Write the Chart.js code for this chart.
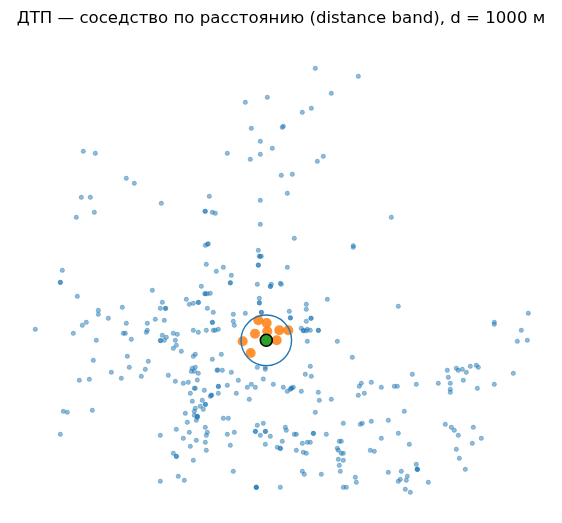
<!DOCTYPE html>
<html>
<head>
<meta charset="utf-8">
<script src="https://cdn.jsdelivr.net/npm/chart.js@4"></script>
<style>
  body { margin: 0; background: #fff; }
  canvas { display: block; }
</style>
</head>
<body>
<canvas id="myChart" width="562" height="523"></canvas>
<script>
    const chartTitle = 'ДТП — соседство по расстоянию (distance band), d = 1000 м';

    // All accidents (map units, y grows downward)
    const accidentX = [
        267.3, 245.3, 251.3, 260.3, 272.3, 260.3, 227.3, 250.3, 83.3, 95.3,
        126.3, 134.3, 81.3, 90.3, 161.3, 209.3, 260.3, 94.3, 76.3, 205,
        205.4, 212.3, 215.3, 260.3, 208.3, 207.5, 205.3, 258.3, 259.3, 260,
        261.3, 258.3, 258.4, 206.3, 223.3, 216.3, 231.3, 62.3, 315.3, 358.3,
        331.3, 311.3, 302.3, 283.3, 282.3, 323.3, 317.3, 292.3, 281.3, 287.3,
        391.3, 294.3, 353.3, 353.3, 287.3, 60.3, 60.4, 77.3, 98.3, 98.3,
        122.3, 108.3, 86.3, 82.3, 73.3, 35.3, 126.3, 147.3, 147.3, 146.3,
        123.3, 125.3, 131.3, 96.3, 127.3, 93.3, 148.3, 129.3, 145.3, 111.3,
        141.3, 121.3, 89.3, 79.3, 92.3, 63.3, 67.3, 60.3, 201.3, 230.3,
        230.4, 152.3, 205.3, 204.8, 207.3, 210.3, 186.3, 162.3, 189.3, 193.3,
        198.3, 198.5, 160.3, 165.7, 165.4, 207.3, 213.3, 155.3, 164.3, 233.3,
        233.3, 234.3, 212.3, 212.5, 193.3, 198.3, 206.3, 213.3, 215.3, 218.3,
        173.3, 177.3, 162.3, 166.3, 164.3, 160.7, 160.3, 175.3, 176.3, 173.3,
        181.3, 195.3, 193.3, 221.3, 212.3, 168.3, 195.3, 192.3, 191.3, 194.3,
        198.3, 217.7, 217, 222.3, 231.3, 197.3, 175.3, 183.3, 188.3, 238.3,
        218.3, 218.5, 227.3, 194.3, 195.3, 204.3, 190.3, 218.3, 236.3, 211.3,
        211.6, 210.3, 192.3, 202.3, 205.3, 205.5, 200.3, 195.3, 203.3, 194.3,
        185.3, 194.3, 197.3, 197.5, 197.3, 196.3, 187.3, 223.3, 228.3, 205.3,
        176.3, 189.3, 207.3, 206.3, 227.3, 234.3, 160.3, 183.3, 196.3, 205.3,
        190.3, 230.3, 206.3, 173.3, 176.3, 176.5, 193.3, 233.3, 178.3, 184.3,
        160.3, 259.3, 259.5, 306.3, 306.3, 327.3, 245.3, 261.3, 261.5, 289.3,
        290.3, 290.5, 306.3, 310.8, 311.2, 301.3, 303.3, 303.6, 306.3, 307.3,
        310.3, 318.3, 318.5, 307.3, 257.3, 265.3, 265.3, 263.3, 310.3, 305.3,
        311.3, 251.3, 247.3, 255.3, 273.3, 283.3, 293.3, 291.3, 291.6, 290.3,
        287.3, 301.3, 318.3, 319.3, 331.3, 249.3, 315.3, 343.3, 263.3, 257.3,
        285.3, 286.3, 255.3, 255.5, 265.3, 265.5, 260.3, 270.3, 294.3, 296.3,
        313.3, 313.5, 326.3, 282.3, 302.3, 307.3, 310.3, 339.3, 341.3, 265.3,
        277.3, 280.3, 280.5, 337.3, 338.3, 296.3, 303.3, 306.3, 341.3, 343.3,
        338.3, 343.3, 339.3, 340.3, 302.3, 304.3, 321.3, 256.3, 256.4, 256.2,
        280.3, 343.3, 346.3, 398.3, 528.3, 494.3, 494.3, 521.3, 517.3, 527.3,
        337.3, 352.3, 412.3, 447.3, 456.3, 458.3, 462.3, 466.3, 470.3, 476.3,
        478.3, 448.3, 463.3, 513.3, 361.3, 359.3, 371.3, 381.3, 394.3, 397.3,
        416.3, 438.3, 450.3, 450.3, 450.3, 477.3, 494.3, 364.3, 358.3, 404.3,
        360.3, 362.3, 371.3, 388.3, 445.3, 451.3, 454.3, 473.3, 458.3, 398.3,
        381.3, 481.3, 472.3, 409.3, 456.3, 370.3, 374.3, 459.3, 416.3, 417.3,
        417.5, 417.1, 465.3, 388.3, 401.3, 407.3, 355.3, 400.3, 406.3, 398.3,
        356.3, 428.3, 405.3, 410.3, 257.3, 271.3, 270.3, 270.5, 280.3, 281.3,
        259.3
    ];
    const accidentY = [
        97.3, 102.3, 128.3, 141.3, 148.3, 154.3, 153.3, 159.3, 151.3, 153.3,
        178.3, 183.3, 197.3, 197.3, 203.3, 196.3, 200.3, 212.3, 217.3, 211.3,
        211.3, 212.3, 213.3, 224.3, 243.7, 244.3, 245.3, 250.3, 256.3, 256.3,
        256.3, 265, 265.2, 264.3, 267.3, 271.3, 275.3, 270.3, 68.3, 76.3,
        93.3, 108.3, 112.3, 126.3, 127.3, 156.3, 161.3, 174.3, 175.3, 193.3,
        217.3, 238.3, 245.7, 247.3, 267.3, 282.3, 282.5, 296.3, 310.3, 314.3,
        307.3, 318.3, 322.3, 325.3, 333.3, 329.3, 323.3, 323.3, 330.3, 332.3,
        333.3, 333.3, 339.3, 340.3, 356.3, 360.3, 361.3, 367.3, 369.3, 372.3,
        376.3, 378.3, 379.3, 380.3, 410.3, 411.3, 412.3, 434.3, 286.3, 282.7,
        282.9, 290.3, 293.7, 293.7, 293.7, 293.3, 299.3, 302.3, 304.3, 303.3,
        302.3, 302.5, 308.3, 308.3, 308.5, 308.3, 312.3, 319.3, 320.3, 314.3,
        321.3, 325.3, 322.3, 322.5, 330.3, 332.3, 330.3, 330.3, 330.3, 329.3,
        333.3, 334.3, 335.3, 337.3, 340.3, 340.7, 340.5, 340.3, 345.3, 348.3,
        351.3, 354.3, 356.3, 354.3, 359.3, 375.3, 367.3, 368.3, 371.3, 371.3,
        373.3, 370, 370.2, 370.3, 372.3, 380, 381.3, 383.3, 382.3, 380.3,
        386.3, 386.5, 385.3, 388.3, 388.3, 390.3, 393.3, 393.3, 393.3, 395.3,
        395.1, 396.3, 401.3, 400.3, 404.3, 404.5, 406.3, 408.3, 409.3, 411.3,
        413.3, 415.3, 416.3, 416.5, 417.3, 420.3, 422.3, 418.3, 418.3, 427.3,
        429.3, 432.3, 432.3, 435.3, 434.3, 432.3, 435.3, 438.3, 440.3, 442.3,
        446.3, 445.3, 450.3, 453.3, 456.3, 456.5, 460.3, 471.3, 476.3, 480.3,
        481.3, 302.7, 303, 304.3, 309.3, 299.3, 313.3, 312.3, 312.5, 311.3,
        317.7, 318, 321.3, 318.3, 318.3, 328.3, 330.7, 330.5, 330.7, 329.3,
        330.3, 330.3, 330.5, 341.3, 367.3, 367.3, 369.3, 379, 366.3, 374.3,
        376.3, 384.3, 387.3, 387.3, 384.3, 387.3, 387.3, 388.3, 388.1, 389.3,
        391.3, 391.3, 392.3, 400.3, 399.3, 399.3, 412.3, 423.3, 423.3, 425.3,
        427.3, 430.3, 431.3, 431.5, 431.3, 431.5, 435.3, 436.3, 434.3, 434.3,
        433.3, 433.5, 434.3, 441.3, 443.3, 442.3, 442.3, 441.3, 441.3, 444.3,
        447.3, 448.3, 448.5, 448.3, 450.3, 450.3, 452.3, 453.3, 453.3, 453.3,
        459.3, 460.3, 465.3, 471.3, 471.3, 474.3, 474.3, 487.3, 487.4, 487.2,
        487.3, 487.3, 487.3, 306.3, 313.3, 322.3, 324.3, 330.3, 341.3, 340.3,
        341.3, 357.3, 374.3, 370.3, 368.3, 370.3, 369.3, 372.3, 366.3, 365.3,
        367.3, 377.3, 380.3, 373.3, 383.3, 386.3, 382.3, 387.3, 386.3, 386.3,
        384.3, 383.3, 383.3, 389.3, 392.3, 388.3, 384.3, 393.3, 395.3, 411.3,
        424.3, 423.3, 421.3, 420.3, 424.3, 427.3, 430.3, 427.3, 435.3, 433.3,
        438.3, 438.3, 443.3, 444.3, 449.3, 450.3, 451.3, 458.3, 464.3, 469.3,
        469.5, 469.1, 469.3, 472.3, 471.3, 476.3, 477.3, 479.3, 480.3, 481.3,
        482.3, 482.3, 489.3, 492.3, 284.3, 284.3, 286.3, 286.5, 283.3, 284.3,
        298.3
    ];

    // Neighbours inside the distance band
    const neighbourX = [258.3, 266.7, 267.3, 279.3, 288.3, 255, 276.7, 242.7, 250.7];
    const neighbourY = [320.3, 323, 331.3, 330.3, 330.3, 333.7, 340.3, 341.3, 353];

    // Selected accident and radius of the band (1000 m), same map units
    const focusX = [266.3];
    const focusY = [340.3];
    const bandRadius = 25.3;

    const toPoints = (xs, ys) => xs.map((x, i) => ({ x: x, y: ys[i] }));

    const ctx = document.getElementById('myChart').getContext('2d');
    const myChart = new Chart(ctx, {
        type: 'scatter',
        data: {
            datasets: [
                {
                    label: 'Выбранное ДТП',
                    data: toPoints(focusX, focusY),
                    order: 1,
                    pointRadius: 6,
                    pointBackgroundColor: '#2ca02c',
                    pointBorderColor: '#000',
                    pointBorderWidth: 1.6
                },
                {
                    label: 'Радиус',
                    data: toPoints(focusX, focusY),
                    order: 2,
                    // radius follows the x scale so it stays in map units
                    pointRadius: c => Math.abs(c.chart.scales.x.getPixelForValue(bandRadius) - c.chart.scales.x.getPixelForValue(0)),
                    pointBackgroundColor: 'rgba(0, 0, 0, 0)',
                    pointBorderColor: '#1f77b4',
                    pointBorderWidth: 1.4
                },
                {
                    label: 'Соседи',
                    data: toPoints(neighbourX, neighbourY),
                    order: 3,
                    pointRadius: 5,
                    pointBorderWidth: 0,
                    pointBackgroundColor: 'rgba(255, 127, 14, 0.85)'
                },
                {
                    label: 'ДТП',
                    data: toPoints(accidentX, accidentY),
                    order: 4,
                    pointRadius: 2.2,
                    pointBorderWidth: 0.6,
                    pointBackgroundColor: 'rgba(31, 119, 180, 0.5)',
                    pointBorderColor: 'rgba(31, 119, 180, 0.5)'
                }
            ]
        },
        options: {
            responsive: false,
            animation: false,
            layout: { padding: 0, autoPadding: false },
            plugins: {
                legend: { display: false },
                tooltip: { enabled: false },
                title: {
                    display: true,
                    text: chartTitle,
                    color: '#000',
                    font: { family: '"DejaVu Sans"', size: 16.6, weight: 'normal', lineHeight: 1.25 },
                    padding: { top: 8, bottom: 7.25 }
                }
            },
            scales: {
                x: { type: 'linear', display: false, min: 0, max: 562 },
                y: { type: 'linear', display: false, min: 36, max: 523, reverse: true }
            }
        }
    });
</script>
</body>
</html>
